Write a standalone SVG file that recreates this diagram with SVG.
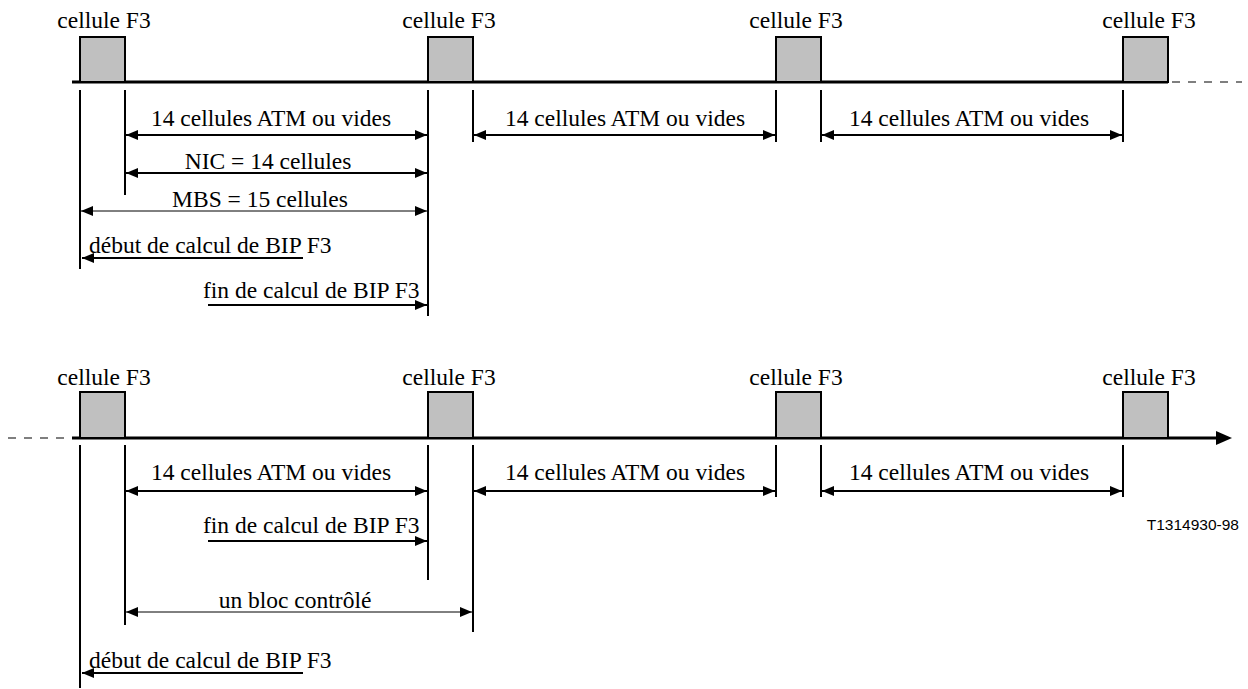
<svg xmlns="http://www.w3.org/2000/svg" width="1248" height="689" viewBox="0 0 1248 689" font-family="'Liberation Serif', 'Times New Roman', Times, serif">
<defs>
<marker id="ah" viewBox="0 0 12 10" refX="12" refY="5" markerWidth="12" markerHeight="10" markerUnits="userSpaceOnUse" orient="auto-start-reverse"><path d="M0,0 L12,5 L0,10 Z" fill="#000"/></marker>
</defs>
<style>
text{font-family:'Liberation Serif','Times New Roman',Times,serif;font-size:23.5px;fill:#000}
.c{text-anchor:middle}
text.id{font-family:'Liberation Sans',Arial,sans-serif;font-size:15.5px;text-anchor:end}
.cell{fill:#c0c0c0;stroke:#000;stroke-width:2}
.axis{stroke:#000;stroke-width:3;fill:none}
.dash{stroke:#000;stroke-width:1.2;stroke-dasharray:8,8;fill:none}
.v{stroke:#000;stroke-width:2;fill:none}
.a{stroke:#000;stroke-width:2;fill:none;marker-end:url(#ah)}
.a2{stroke:#000;stroke-width:2;fill:none;marker-start:url(#ah);marker-end:url(#ah)}
.t2{stroke:#000;stroke-width:1;fill:none;marker-start:url(#ah);marker-end:url(#ah)}
</style>
<rect width="1248" height="689" fill="#fff"/>
<g id="connectors">
<line class="axis" x1="72" y1="82" x2="1168" y2="82"/>
<line class="dash" x1="1172" y1="82" x2="1242" y2="82"/>
<line class="v" x1="80" y1="90" x2="80" y2="269"/>
<line class="v" x1="125" y1="90" x2="125" y2="195"/>
<line class="v" x1="428" y1="90" x2="428" y2="316"/>
<line class="v" x1="473" y1="90" x2="473" y2="142"/>
<line class="v" x1="776" y1="90" x2="776" y2="142"/>
<line class="v" x1="821" y1="90" x2="821" y2="142"/>
<line class="v" x1="1123" y1="90" x2="1123" y2="142"/>
<line class="a2" x1="126" y1="135" x2="427" y2="135"/>
<line class="a2" x1="474" y1="135" x2="775" y2="135"/>
<line class="a2" x1="822" y1="135" x2="1122" y2="135"/>
<line class="a2" x1="126" y1="173" x2="427" y2="173"/>
<line class="t2" x1="81" y1="211" x2="427" y2="211"/>
<line class="a" x1="303" y1="258" x2="82" y2="258"/>
<line class="a" x1="208" y1="305" x2="427" y2="305"/>
<line class="dash" x1="8" y1="438" x2="70" y2="438"/>
<line class="axis" x1="72" y1="438" x2="1218" y2="438"/>
<path d="M1216,431 L1232,438 L1216,445 Z" fill="#000"/>
<line class="v" x1="80" y1="445" x2="80" y2="688"/>
<line class="v" x1="125" y1="445" x2="125" y2="625"/>
<line class="v" x1="428" y1="445" x2="428" y2="580"/>
<line class="v" x1="473" y1="445" x2="473" y2="632"/>
<line class="v" x1="776" y1="445" x2="776" y2="497"/>
<line class="v" x1="821" y1="445" x2="821" y2="497"/>
<line class="v" x1="1123" y1="445" x2="1123" y2="497"/>
<line class="a2" x1="126" y1="491" x2="427" y2="491"/>
<line class="a2" x1="474" y1="491" x2="775" y2="491"/>
<line class="a2" x1="822" y1="491" x2="1122" y2="491"/>
<line class="a" x1="208" y1="541" x2="427" y2="541"/>
<line class="t2" x1="126" y1="612" x2="472" y2="612"/>
<line class="a" x1="303" y1="673" x2="82" y2="673"/>
</g>
<g id="cell-t1"><rect class="cell" x="80" y="37" width="45" height="45"/><text class="c" x="104" y="28">cellule F3</text></g>
<g id="cell-t2"><rect class="cell" x="428" y="37" width="45" height="45"/><text class="c" x="449" y="28">cellule F3</text></g>
<g id="cell-t3"><rect class="cell" x="776" y="37" width="45" height="45"/><text class="c" x="796" y="28">cellule F3</text></g>
<g id="cell-t4"><rect class="cell" x="1123" y="37" width="45" height="45"/><text class="c" x="1149" y="28">cellule F3</text></g>
<g id="cell-b1"><rect class="cell" x="80" y="392" width="45" height="46"/><text class="c" x="104" y="385">cellule F3</text></g>
<g id="cell-b2"><rect class="cell" x="428" y="392" width="45" height="46"/><text class="c" x="449" y="385">cellule F3</text></g>
<g id="cell-b3"><rect class="cell" x="776" y="392" width="45" height="46"/><text class="c" x="796" y="385">cellule F3</text></g>
<g id="cell-b4"><rect class="cell" x="1123" y="392" width="45" height="46"/><text class="c" x="1149" y="385">cellule F3</text></g>
<g id="labels">
<text class="c" x="271" y="126">14 cellules ATM ou vides</text>
<text class="c" x="625" y="126">14 cellules ATM ou vides</text>
<text class="c" x="969" y="126">14 cellules ATM ou vides</text>
<text class="c" x="268" y="169">NIC = 14 cellules</text>
<text class="c" x="260" y="207">MBS = 15 cellules</text>
<text x="89" y="253">début de calcul de BIP F3</text>
<text x="203" y="298">fin de calcul de BIP F3</text>
<text class="c" x="271" y="480">14 cellules ATM ou vides</text>
<text class="c" x="625" y="480">14 cellules ATM ou vides</text>
<text class="c" x="969" y="480">14 cellules ATM ou vides</text>
<text x="203" y="533">fin de calcul de BIP F3</text>
<text class="c" x="295" y="608">un bloc contrôlé</text>
<text x="89" y="668">début de calcul de BIP F3</text>
<text class="id" x="1239" y="530">T1314930-98</text>
</g>
</svg>
